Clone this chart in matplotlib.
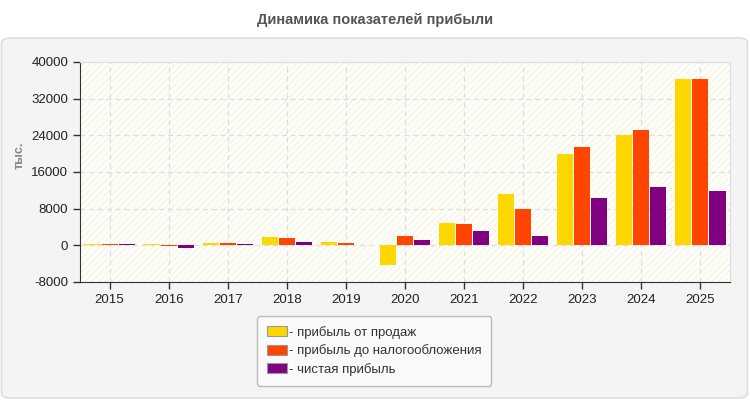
import matplotlib
matplotlib.use("Agg")
import matplotlib.pyplot as plt
import numpy as np
from matplotlib.patches import FancyBboxPatch, Rectangle

years = ["2015", "2016", "2017", "2018", "2019", "2020", "2021", "2022", "2023", "2024", "2025"]
sales_profit = [300, 300, 580, 1850, 800, -4300, 4900, 11300, 20000, 24100, 36350]
pretax_profit = [350, -250, 580, 1650, 580, 2000, 4700, 8000, 21500, 25200, 36350]
net_profit = [300, -550, 360, 800, 150, 1100, 3200, 2100, 10400, 12800, 11900]
series_names = ["- прибыль от продаж", "- прибыль до налогообложения", "- чистая прибыль"]
colors = ["#FFD700", "#FF4500", "#800080"]
y_ticks = [-8000, 0, 8000, 16000, 24000, 32000, 40000]

plt.rcParams['font.family'] = ['Liberation Sans', 'DejaVu Sans']
plt.rcParams['hatch.color'] = '#ececec'
plt.rcParams['hatch.linewidth'] = 0.6

fig = plt.figure(figsize=(7.5, 4.0), dpi=100)
fig.patch.set_facecolor("white")

# outer panel
panel = FancyBboxPatch((1.5 / 750, 2 / 400), 746 / 750, 360 / 400,
                       boxstyle="round,pad=0,rounding_size=0.012",
                       transform=fig.transFigure, facecolor="#f4f4f4",
                       edgecolor="#dedede", linewidth=1.2, zorder=-10)
fig.patches.append(panel)

fig.text(0.5, 1 - 20 / 400, "Динамика показателей прибыли", ha="center", va="center",
         fontsize=10.5, fontweight="bold", color="#555555")

ax = fig.add_axes([80 / 750, 1 - 282 / 400, 650 / 750, 220 / 400])
ax.set_zorder(1)
ax.set_facecolor("#fffff8")
ax.add_patch(Rectangle((0, 0), 1, 1, transform=ax.transAxes, facecolor="#fffff8",
                       hatch="/////", edgecolor="#eeeeea", linewidth=0, zorder=0))

x = np.arange(len(years))
w = 0.272
step = 0.288
for i, (vals, c, name) in enumerate(zip([sales_profit, pretax_profit, net_profit], colors, series_names)):
    ax.bar(x + (i - 1) * step, vals, width=w, color=c, label=name, zorder=3)

ax.set_xlim(-0.5, len(years) - 0.5)
ax.set_ylim(-8000, 40000)
ax.set_yticks(y_ticks)
ax.set_yticklabels([str(v) for v in y_ticks], fontsize=9.5, color="#222222")
ax.set_xticks(x)
ax.set_xticklabels(years, fontsize=9.5, color="#222222")
ax.grid(True, linestyle=(0, (4, 3)), color="#dddddd", linewidth=0.9, zorder=1)
ax.set_axisbelow(True)
for s in ["top", "right"]:
    ax.spines[s].set_color("#dddddd")
for s in ["left", "bottom"]:
    ax.spines[s].set_color("#333333")
ax.tick_params(axis="both", length=5, color="#333333", width=1)

fig.text(20 / 750, 1 - 155 / 400, "тыс.", rotation=90, ha="center", va="center",
         fontsize=9, fontweight="bold", color="#888888")

leg = fig.legend(loc="upper left", bbox_to_anchor=(257 / 750, 1 - 316 / 400),
                 fontsize=9.5, frameon=True, fancybox=True, handlelength=1.5, handleheight=0.8,
                 handletextpad=0.15, labelspacing=0.42, borderpad=0.75, borderaxespad=0,
                 facecolor="#fafafa", edgecolor="#bbbbbb", framealpha=1)
for h in leg.legend_handles:
    h.set_edgecolor("#999999")
    h.set_linewidth(0.8)
for t in leg.get_texts():
    t.set_color("#333333")

fig.savefig("out.png", dpi=100, facecolor=fig.get_facecolor())
